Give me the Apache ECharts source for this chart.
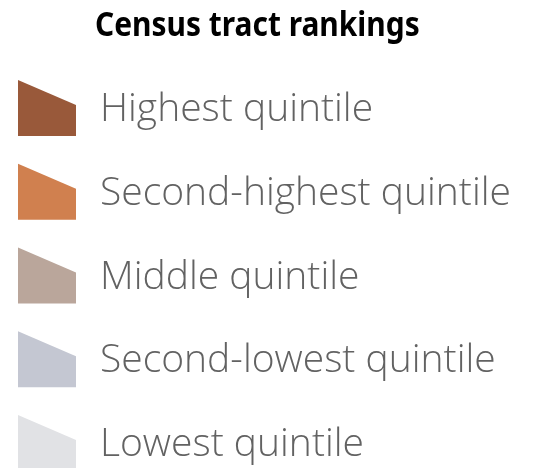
<!DOCTYPE html>
<html>
<head>
<meta charset="utf-8">
<script src="https://cdn.jsdelivr.net/npm/echarts@6/dist/echarts.min.js"></script>
<style>html,body{margin:0;padding:0;background:#fff}#c{width:537px;height:468px}</style>
</head>
<body>
<div id="c"></div>
<script>
const titleText = "Census tract rankings";
const categories = ["Highest quintile", "Second-highest quintile", "Middle quintile", "Second-lowest quintile", "Lowest quintile"];
const colors = ["#99593A", "#D0804F", "#BAA69B", "#C4C7D2", "#E1E2E5"];
const rows = [0, 1, 2, 3, 4];

const chart = echarts.init(document.getElementById('c'), null, {renderer: 'canvas'});
chart.setOption({
  animation: false,
  backgroundColor: '#fff',
  graphic: [{
    type: 'text',
    x: 95,
    y: 9,
    scaleX: 0.88,
    style: {
      text: titleText,
      fontFamily: 'Noto Sans',
      fontWeight: 'bold',
      fontSize: 34,
      fill: '#000'
    }
  }],
  grid: {left: 18, width: 58, top: 66, bottom: 10, containLabel: false},
  xAxis: {type: 'value', min: -1, max: 1, show: false},
  yAxis: {type: 'value', min: -0.5, max: 4.18, inverse: true, show: false},
  series: [{
    type: 'scatter',
    symbol: 'path://M0,0 L58,25 L58,56 L0,56 Z',
    symbolSize: [58, 56],
    itemStyle: {opacity: 1},
    data: categories.map((c, i) => ({value: [0, rows[i]], name: c, itemStyle: {color: colors[i], opacity: 1}})),
    label: {
      show: true,
      position: 'right',
      distance: 24,
      offset: [0, 2],
      formatter: p => p.name,
      fontFamily: 'Open Sans',
      fontWeight: 300,
      fontSize: 39,
      color: '#626262'
    }
  }]
});
</script>
</body>
</html>
